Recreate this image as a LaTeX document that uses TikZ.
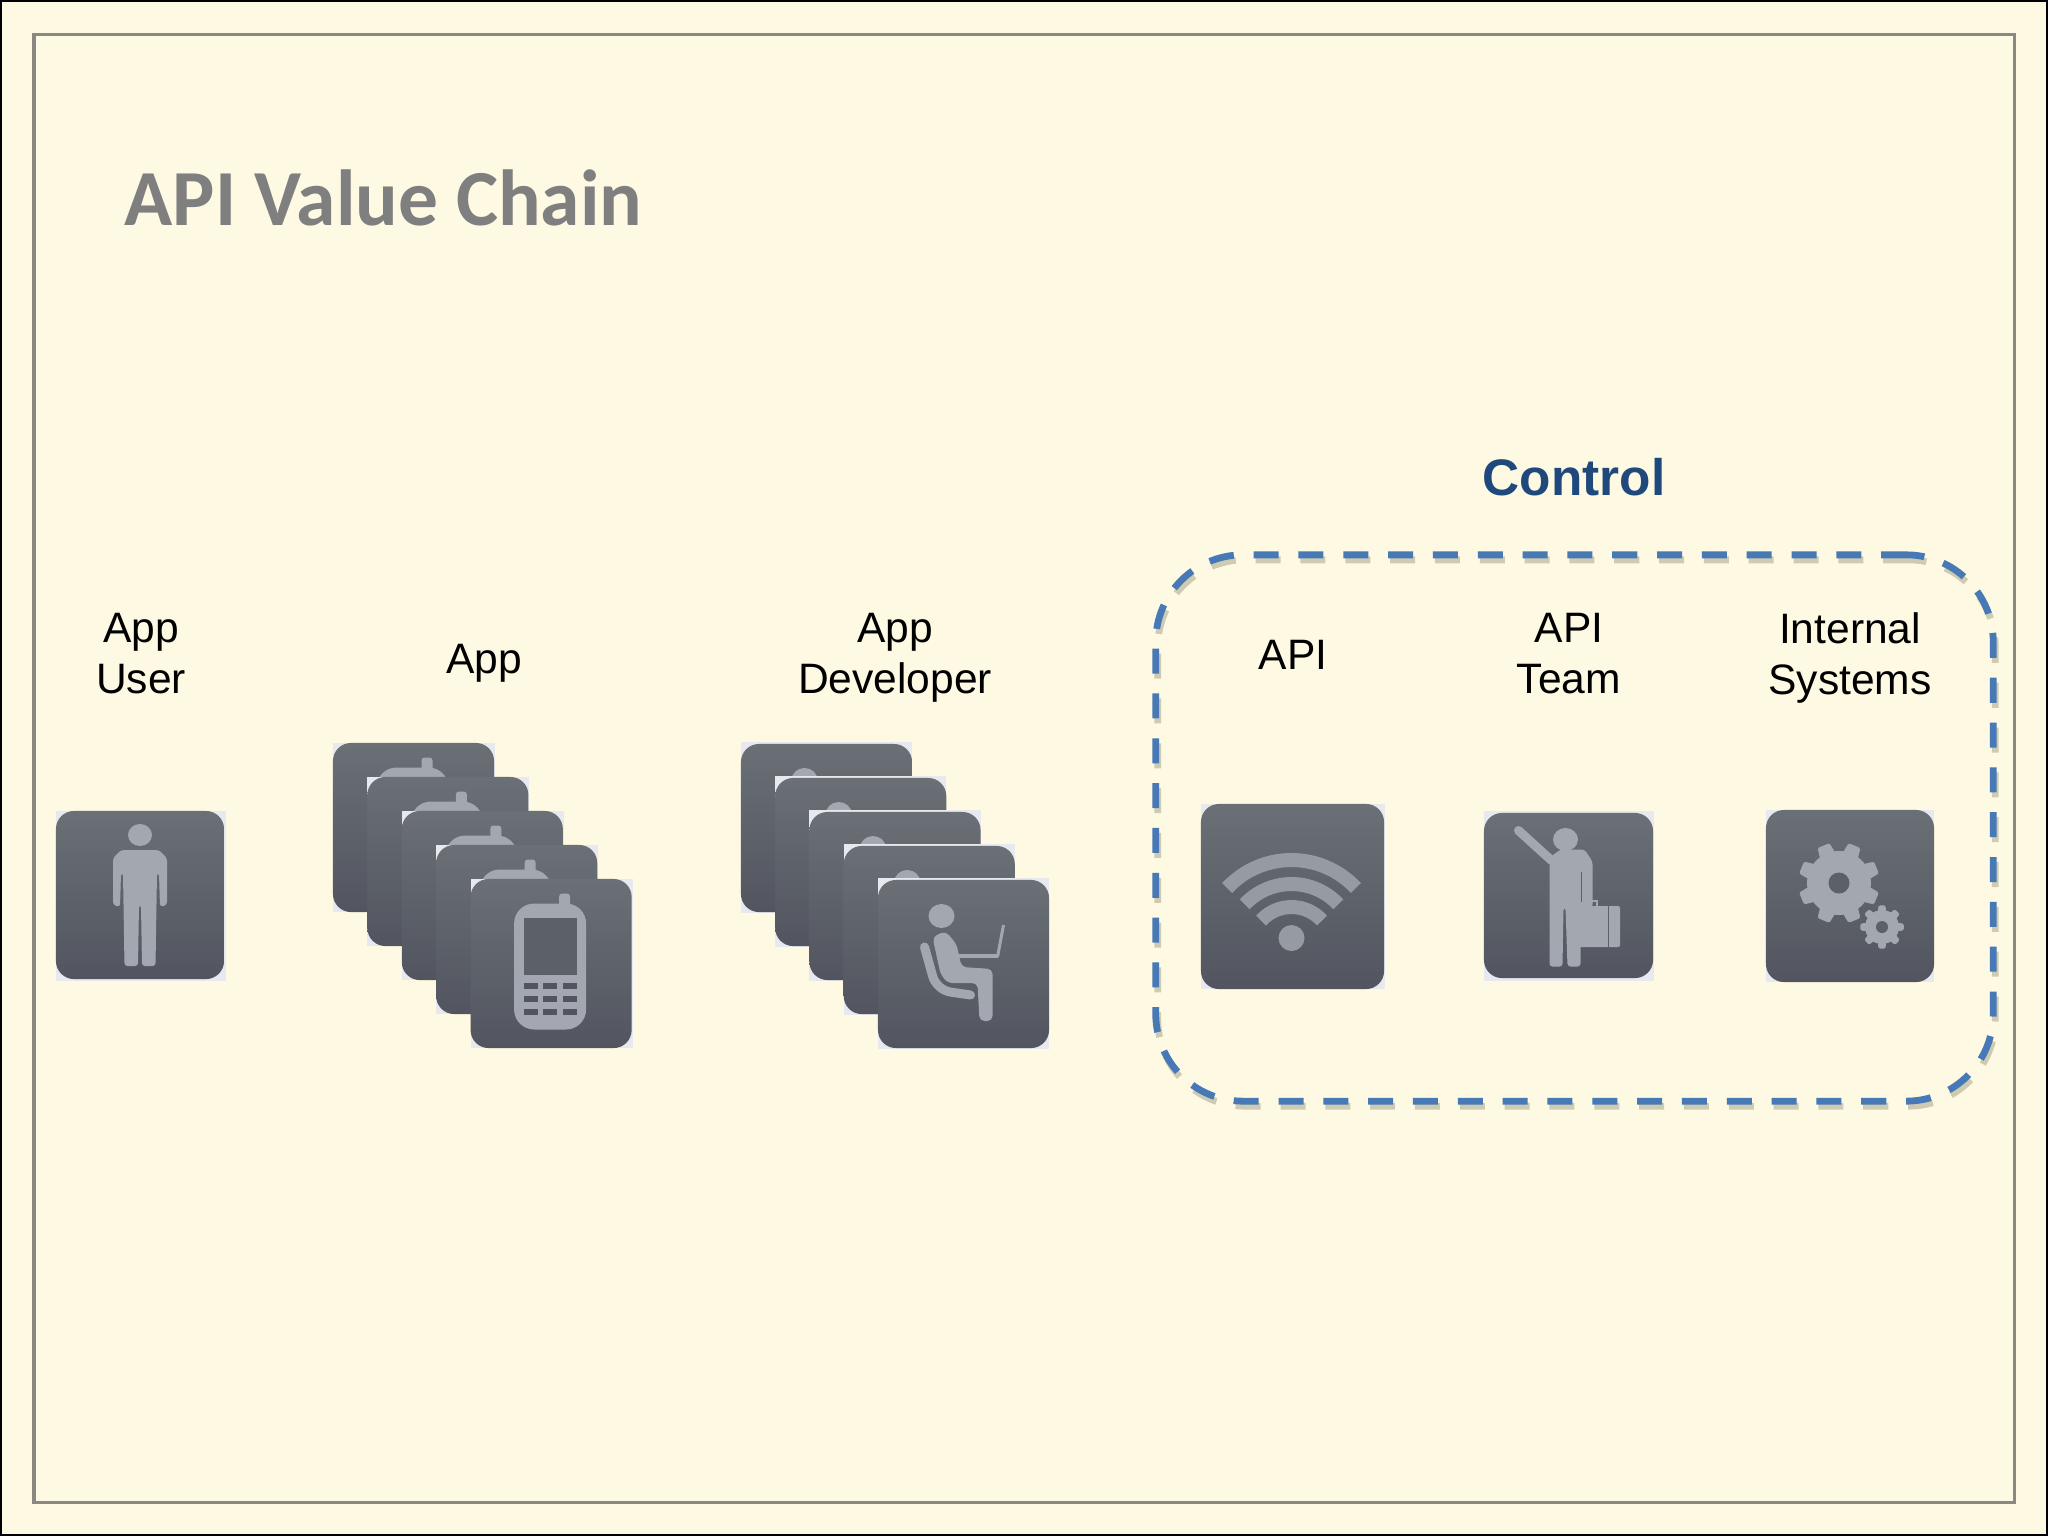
\documentclass[tikz,border=0pt]{standalone}
\usepackage{fontspec}
\setmainfont{Liberation Sans}
\newfontfamily\titlefont{Carlito}
\definecolor{paper}{HTML}{FEF9E3}
\definecolor{framegray}{HTML}{8B8781}
\definecolor{titlegray}{HTML}{7F7F7F}
\definecolor{controlblue}{HTML}{1F497D}
\definecolor{dashblue}{HTML}{4679B5}
\definecolor{dashshade}{HTML}{CFCBB2}
\definecolor{icontop}{HTML}{6A7076}
\definecolor{iconbottom}{HTML}{52555F}
\definecolor{iconmid}{HTML}{5C6069}
\definecolor{glyphgray}{HTML}{A3A7AF}
\definecolor{cornerpale}{HTML}{E8E9EE}
\tikzset{
    label/.style={align=center,font=\fontsize{12.1}{14.5}\selectfont},
    iconcard/.style={rounded corners=.18cm,inner sep=0pt,top color=icontop,bottom color=iconbottom},
    iconback/.style={inner sep=0pt,fill=cornerpale},
    controlbox/.style={rounded corners=.87cm,inner sep=0pt,minimum width=8.37cm,minimum height=5.46cm,line width=.068cm,dash pattern=on .25cm off .198cm},
    pics/personglyph/.style={code={
        \fill[glyphgray] (0,-60) ellipse (12 and 11);
        \fill[glyphgray,rounded corners=.03cm] (-19,-45) -- (19,-45) -- (27,-37) -- (27,10) -- (20,12) -- (19,-22) -- (17,-22) -- (15.5,71) -- (2,71) -- (1,10) -- (-1,10) -- (-2,71) -- (-15.5,71) -- (-17,-22) -- (-19,-22) -- (-20,12) -- (-27,10) -- (-27,-37) -- cycle;
    }},
    pics/phoneglyph/.style={code={
        \fill[glyphgray,rounded corners=.03cm] (8,-55) -- (8,-70) -- (19,-70) -- (19,-55) -- cycle;
        \fill[glyphgray,rounded corners=.2cm] (-37,-60) rectangle (35,66);
        \fill[iconmid] (-27.5,-46) rectangle (25.5,11);
        \foreach \col in {-27,-8,11.5} \foreach \row in {19.5,32.5,45.5}
            \fill[iconbottom] (\col,\row) rectangle ++(14,6);
    }},
    pics/seatedglyph/.style={code={
        \fill[glyphgray] (-22,-48) ellipse (13 and 12);
        \draw[glyphgray,line width=.09cm,line cap=round,rounded corners=.14cm] (-39,-17) -- (-27,26) -- (7,31);
        \fill[glyphgray,rounded corners=.05cm] (-31,-27) -- (-18,-33) -- (-7,-20) -- (-2,3) -- (29,5) -- (29,57) -- (16,57) -- (14,19) -- (-16,19) -- (-23,10) -- cycle;
        \draw[glyphgray,line width=.035cm] (-6,-8) -- (34,-8);
        \draw[glyphgray,line width=.03cm] (40,-39) -- (34,-7);
    }},
    pics/wifiglyph/.style={code={
        \fill[glyphgray!92!black] (-1,41.5) ellipse (13 and 13);
        \draw[glyphgray!92!black,line width=.14cm] (-1,51.5) ++(223:88) arc (223:317:88);
        \draw[glyphgray!92!black,line width=.14cm] (-1,51.5) ++(223:64) arc (223:317:64);
        \draw[glyphgray!92!black,line width=.14cm] (-1,51.5) ++(222:41) arc (222:318:41);
    }},
    pics/travelglyph/.style={code={
        \fill[glyphgray] (-3,-56) ellipse (12.5 and 11.5);
        \draw[glyphgray,line width=.09cm,line cap=round] (-50,-65) -- (-17,-35);
        \fill[glyphgray,rounded corners=.03cm] (-19,-38) -- (-8,-46) -- (16,-46) -- (24,-34) -- (24,12) -- (12,12) -- (12,71) -- (-1,71) -- (-3,12) -- (-5,12) -- (-6,71) -- (-19,71) -- cycle;
        \draw[iconmid,line width=.008cm] (12.5,-24) -- (12.5,6);
        \fill[glyphgray,rounded corners=.02cm] (10,10.5) rectangle (51.5,51.5);
        \draw[iconmid,line width=.008cm] (39.5,10.5) -- (39.5,51.5);
        \draw[glyphgray,line width=.02cm] (16,11) -- (16,5) -- (28,5) -- (28,11);
    }},
    pics/gearglyph/.style n args={4}{code={
        \fill[glyphgray] (0,0) circle (#1);
        \foreach \ang in {0,45,...,315}
            \fill[glyphgray,rounded corners=.015cm] (\ang+#4-15:#1-1) -- (\ang+#4-9:#2) -- (\ang+#4+9:#2) -- (\ang+#4+15:#1-1) -- cycle;
        \fill[iconmid] (0,0) circle (#3);
    }},
}
\begin{document}
\begin{tikzpicture}[x=.01cm,y=-.01cm]
    \useasboundingbox (0,0) rectangle (2048,1536);
    \fill[paper] (0,0) rectangle (2048,1536);
    \draw[black,line width=.02cm] (1,1) rectangle (2047,1535);
    \draw[framegray,line width=.03cm] (34,34) rectangle (2014,1502);

    \node[anchor=west,titlegray,font=\titlefont\bfseries\fontsize{22.6}{26}\selectfont,inner sep=0pt] (title) at (124,198) {API Value Chain};

    % value chain labels
    \node[label] (userlabel) at (141,654) {App\\User};
    \node[label] (applabel) at (484,663) {App};
    \node[label] (devlabel) at (895,658) {App\\Developer};
    \node[label] (apilabel) at (1293,655) {API};
    \node[label] (teamlabel) at (1569,654) {API\\Team};
    \node[label] (syslabel) at (1850,658) {Internal\\Systems};
    \node[controlblue,font=\bfseries\fontsize{14.6}{17}\selectfont] (controllabel) at (1574,477) {Control};

    % single icons
    \node[iconback,minimum width=1.70cm,minimum height=1.70cm] (userback) at (141,896) {};
    \node[iconcard,minimum width=1.68cm,minimum height=1.68cm] (user) at (140,895) {};
    \pic at (user) {personglyph};

    \node[iconback,minimum width=1.84cm,minimum height=1.85cm] (apiback) at (1293,896.5) {};
    \node[iconcard,minimum width=1.83cm,minimum height=1.85cm] (api) at (1292.5,896.5) {};
    \pic at (api) {wifiglyph};

    \node[iconback,minimum width=1.70cm,minimum height=1.69cm] (teamback) at (1569,896) {};
    \node[iconcard,minimum width=1.69cm,minimum height=1.65cm] (team) at (1568.5,895.5) {};
    \pic at (team) {travelglyph};

    \node[iconback,minimum width=1.68cm,minimum height=1.72cm] (gearsback) at (1850,896) {};
    \node[iconcard,minimum width=1.68cm,minimum height=1.72cm] (gears) at (1850,896) {};
    \pic at (1839,883) {gearglyph={32}{41}{10.5}{22.5}};
    \pic at (1882,927) {gearglyph={17}{22}{6}{0}};

    % stacked icons
    \foreach \i in {0,...,4} {
        \node[iconback,minimum width=1.62cm,minimum height=1.69cm] (appback\i) at ({414+34.4*\i},{827.5+34*\i}) {};
        \node[iconcard,minimum width=1.61cm,minimum height=1.69cm] (app\i) at ({413.5+34.4*\i},{827.5+34*\i}) {};
        \pic at (app\i) {phoneglyph};
    }
    \foreach \i in {0,...,4} {
        \node[iconback,minimum width=1.71cm,minimum height=1.70cm] (devback\i) at ({826.5+34.25*\i},{827.5+34*\i}) {};
        \node[iconcard,minimum width=1.71cm,minimum height=1.68cm] (dev\i) at ({826.5+34.25*\i},{828+34*\i}) {};
        \pic at (dev\i) {seatedglyph};
    }

    % control group
    \node[controlbox,draw=dashshade] (controlshade) at (1576.5,833) {};
    \node[controlbox,draw=dashblue] (control) at (1574.5,828) {};
\end{tikzpicture}
\end{document}
